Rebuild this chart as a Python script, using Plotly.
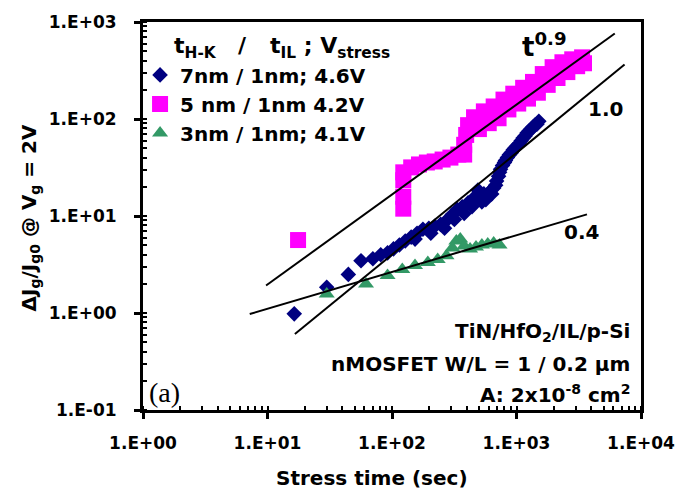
import plotly.graph_objects as go

# Stress time (s) and relative gate-current change for each gate stack
t_7nm = [16.4, 29.9, 44.6, 56.4, 70.2, 81.2, 92.1, 102.8, 114.6, 127.8, 142.6, 153.2, 158.9,
         177.2, 197.7, 205, 220.3, 245.8, 264.3, 274.2, 305.5, 316.9, 334.7, 366.4, 380,
         408.4, 439.5, 456, 490, 499, 527, 547, 567, 598.4, 632, 655.6, 679.6, 692, 717.8,
         731, 744.5, 772, 800.3, 815, 845.3, 877, 909, 942, 977.4, 1014, 1051, 1090, 1130.6,
         1172, 1216, 1261, 1307.5, 1356, 1406, 1459, 1512]
j_7nm = [0.98, 1.84, 2.50, 3.46, 3.63, 3.98, 4.17, 4.58, 5.03, 5.52, 6.06, 5.78, 6.65,
         7.30, 7.47, 6.65, 7.83, 8.20, 7.47, 9.0, 10.35, 9.2, 11.64, 12.47, 10.6,
         13.7, 12.5, 15.4, 18.5, 16.1, 14.0, 16.9, 14.7, 17.3, 16.9, 19.4, 20.8, 22.9, 25.7,
         28.2, 30.3, 33.2, 35.6, 37.3, 40.0, 42.9, 45.0, 48.3, 50.6, 53.0, 55.5, 59.5, 63.8,
         66.9, 71.7, 75.2, 78.7, 82.5, 86.4, 88.5, 94.9]

t_5nm = [17.6, 123.2, 123.2, 123.2, 123.2, 142.6, 164.8, 190.6, 220.3, 254.9, 294.6, 340.8,
         380, 380, 394.2, 408.4,
         456, 546.8, 655.6, 786.3, 942, 1130.6, 1356, 1626, 1950, 2338, 2803, 3363,
         499, 598.4, 717.8, 860.9, 1032.3, 1237.6, 1484.6, 1780.6, 2135, 2561, 3070, 3486]
j_5nm = [5.65, 11.9, 15.8, 23.4, 28.2, 31.7, 34.0, 35.6, 36.5, 38.2, 40.0, 43.0,
         43.0, 54.2, 68.5, 86.4,
         104.2, 119.8, 134.6, 158.5, 182.3, 209.7, 241.2, 290.6, 342.1, 384.5, 412.3, 432.0,
         78.7, 90.6, 101.8, 125.5, 144.3, 162.3, 186.6, 224.9, 264.8, 304.5, 350.2, 375.5]

t_3nm = [29.9, 61.8, 92.1, 121, 153, 194, 232.8, 274, 305.5, 328.6, 353.5, 380, 423.8,
         472.8, 527, 587.6, 655.6, 731]
j_3nm = [1.57, 1.99, 2.44, 2.81, 3.08, 3.32, 3.56, 3.89, 4.69, 5.52, 5.78, 4.91, 4.58,
         4.80, 5.03, 5.14, 5.27, 5.03]

# Power-law guide lines (end points)
fit_09_t = [9.74, 6156]
fit_09_j = [1.92, 761]
fit_10_t = [16.6, 7380]
fit_10_j = [0.607, 364]
fit_04_t = [7.2, 3681]
fit_04_j = [0.976, 10.4]

x_tickvals = [1, 10, 100, 1000, 10000]
x_ticktext = ["1.E+00", "1.E+01", "1.E+02", "1.E+03", "1.E+04"]
y_tickvals = [0.1, 1, 10, 100, 1000]
y_ticktext = ["1.E-01", "1.E+00", "1.E+01", "1.E+02", "1.E+03"]

FONT = "DejaVu Sans"
W, H = 687, 493
ML, MR, MT, MB = 143, 37, 15, 83
PW, PH = W - ML - MR, H - MT - MB


def px(x):
    return (x - ML) / PW


def py(y):
    return (MT + PH - y) / PH


fig = go.Figure()
fig.add_trace(go.Scatter(
    x=t_7nm, y=j_7nm, mode="markers", name="7nm / 1nm; 4.6V",
    marker=dict(symbol="diamond", size=12, color="#000080", line=dict(width=0))))
fig.add_trace(go.Scatter(
    x=t_5nm, y=j_5nm, mode="markers", name="5 nm / 1nm 4.2V",
    marker=dict(symbol="square", size=16, color="#FF00FF", line=dict(width=0))))
fig.add_trace(go.Scatter(
    x=t_3nm, y=j_3nm, mode="markers", name="3nm / 1nm; 4.1V",
    marker=dict(symbol="triangle-up", size=14, color="#339966", line=dict(width=0))))

for ft, fj in [(fit_09_t, fit_09_j), (fit_10_t, fit_10_j), (fit_04_t, fit_04_j)]:
    fig.add_trace(go.Scatter(x=ft, y=fj, mode="lines", showlegend=False,
                             line=dict(color="black", width=2)))

axis_common = dict(
    type="log", showgrid=False, zeroline=False,
    showline=True, linewidth=3, linecolor="black", mirror=True,
    ticks="outside", ticklen=6, tickwidth=3, tickcolor="black",
    tickmode="array",
    tickfont=dict(family=FONT, size=17, color="black", weight="bold"),
    minor=dict(ticks="inside", ticklen=4, tickwidth=2, tickcolor="black",
               dtick="D1", showgrid=False),
)

fig.update_layout(
    width=W, height=H,
    margin=dict(l=ML, r=MR, t=MT, b=MB, pad=0),
    paper_bgcolor="white", plot_bgcolor="white",
    xaxis=dict(range=[0, 4], tickvals=x_tickvals, ticktext=x_ticktext,
               ticklabelstandoff=10, **axis_common),
    yaxis=dict(range=[-1, 3], tickvals=y_tickvals, ticktext=y_ticktext,
               ticklabelstandoff=14, **axis_common),
    showlegend=True,
    legend=dict(x=px(140), y=py(49), xanchor="left", yanchor="top",
                bgcolor="rgba(0,0,0,0)", borderwidth=0,
                font=dict(family=FONT, size=20, color="black", weight="bold"),
                itemsizing="trace", tracegroupgap=0),
)

bold = dict(family=FONT, color="black", weight="bold")
annotations = [
    # axis titles
    dict(text="Stress time (sec)", x=px(376), y=py(479), font=dict(size=20, **bold)),
    dict(text="ΔJ<sub>g</sub>/J<sub>g0</sub> @ V<sub>g</sub> = 2V", x=px(28), y=py(214),
         textangle=-90, font=dict(size=20, **bold)),
    # legend heading
    dict(text="t<sub>H-K</sub>", x=px(173), y=py(41), xanchor="left", font=dict(size=22, **bold)),
    dict(text="/", x=px(238), y=py(39), xanchor="left", font=dict(size=22, **bold)),
    dict(text="t<sub>IL</sub> ; V<sub>stress</sub>", x=px(270), y=py(41), xanchor="left",
         font=dict(size=22, **bold)),
    # slope labels
    dict(text="t<sup>0.9</sup>", x=px(552), y=py(38), font=dict(size=26, **bold)),
    dict(text="1.0", x=px(614), y=py(104), font=dict(size=20, **bold)),
    dict(text="0.4", x=px(589), y=py(229), font=dict(size=20, **bold)),
    # device info
    dict(text="TiN/HfO<sub>2</sub>/IL/p-Si", x=px(641), y=py(331), xanchor="right",
         font=dict(size=20, **bold)),
    dict(text="nMOSFET W/L = 1 / 0.2 μm", x=px(641), y=py(363), xanchor="right",
         font=dict(size=20, **bold)),
    dict(text="A: 2x10<sup>-8</sup> cm<sup>2</sup>", x=px(641), y=py(394), xanchor="right",
         font=dict(size=20, **bold)),
    dict(text="(a)", x=px(147), y=py(392), xanchor="left",
         font=dict(family="Liberation Serif", size=28, color="black")),
]
for a in annotations:
    a.setdefault("xanchor", "center")
    a.update(xref="paper", yref="paper", yanchor="middle", showarrow=False)
    fig.add_annotation(**a)

fig.write_html("out.html")
